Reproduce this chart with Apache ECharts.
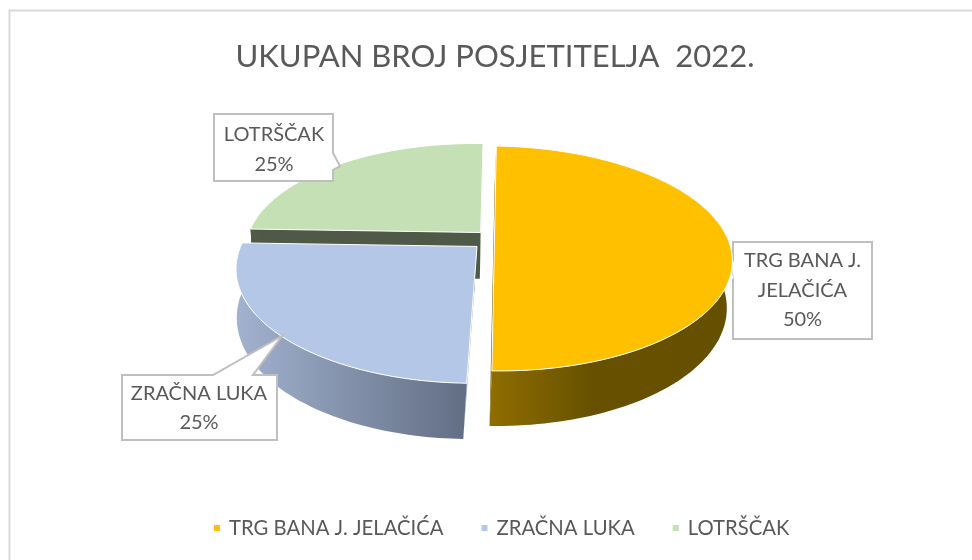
<!DOCTYPE html>
<html><head><meta charset="utf-8">
<style>html,body{margin:0;padding:0;background:#fff}#c{width:972px;height:560px}</style>
<script src="https://cdn.jsdelivr.net/npm/echarts@6/dist/echarts.min.js"></script>
</head><body><div id="c"></div>
<script>
const titleText = 'UKUPAN BROJ POSJETITELJA  2022.';
const categories = ['TRG BANA J. JELAČIĆA', 'ZRAČNA LUKA', 'LOTRŠČAK'];
const labelLines = [['TRG BANA J.', 'JELAČIĆA'], ['ZRAČNA LUKA'], ['LOTRŠČAK']];
const values = [50, 25, 25];
const startAngle = 0;

const FONT = 'Lato, "Open Sans", sans-serif';
const TEXT = '#595959';
const topColors = ['#FFC000', '#B4C7E7', '#C5E0B4'];
const sideStops = [
  [[0, '#8F6D00'], [0.42, '#675100'], [1, '#655000']],
  [[0, '#A2B2CF'], [1, '#626E84']],
  [[0, '#505A47'], [1, '#4E5846']]
];
// wall seen at the start / end of each slice, clockwise
const startWall = ['#7F6000', '#8FA3C9', '#4F5947'];
const endWall = ['#7F6000', '#6B7890', '#D5E8C9'];
const zOrder = [3, 2, 1];

// camera / layout
const cam = {xc: 484, yc: 240, rx: 232, ry: 108, hgt: 47.5, p: 0.19, q: 0.015, sy: 0.015};
const shear = [-0.038, -0.064, -0.02];
const radius = [1.014, 1, 1.005];
const explode = [[0.045, -0.03], [-0.028, 0.06], [-0.015, -0.07]];
const callouts = [
  {box: [733, 242, 872, 339], pts: [[733, 258], [725, 241], [733, 279]], edge: 'left', tx: 802.5, ty: [261, 291, 320], z: 25},
  {box: [122, 375, 277, 440], pts: [[213, 375], [282, 336], [253, 375]], edge: 'top', tx: 199, ty: [394, 423], z: 100},
  {box: [214, 114, 333, 181], pts: [[333, 153], [340, 166], [333, 170]], edge: 'right', tx: 274, ty: [135, 165], z: 100}
];

const total = values.reduce((a, b) => a + b, 0);
function project(i, u, v, h) {
  const w = 1 - cam.p * v + cam.q * h;
  const x = cam.rx * u / w, y = (cam.ry * v + cam.hgt * h) / w;
  return [cam.xc + x + shear[i] * y, cam.yc + y + cam.sy * x];
}
function sliceAngles(i) {
  let acc = 0;
  for (let k = 0; k < i; k++) acc += values[k];
  return [startAngle + acc / total * 2 * Math.PI, startAngle + (acc + values[i]) / total * 2 * Math.PI];
}
function rim(i, a, h) {
  return project(i, explode[i][0] + radius[i] * Math.sin(a), explode[i][1] - radius[i] * Math.cos(a), h);
}
function arc(i, a0, a1, h) {
  const out = [], n = 72;
  for (let k = 0; k <= n; k++) out.push(rim(i, a0 + (a1 - a0) * k / n, h));
  return out;
}
function calloutShape(c) {
  const [l, t, r, b] = c.box, p = c.pts;
  if (c.edge === 'left') return [[l, t], [r, t], [r, b], [l, b], p[2], p[1], p[0]];
  if (c.edge === 'top') return [[l, t], p[0], p[1], p[2], [r, t], [r, b], [l, b]];
  return [[l, t], [r, t], p[0], p[1], p[2], [r, b], [l, b]];
}
function renderSlice(i) {
  return function (params, api) {
    const value = api.value(1);
    if (value == null) return;
    const [a0, a1] = sliceAngles(i);
    const apex = project(i, explode[i][0], explode[i][1], 0);
    const apexB = project(i, explode[i][0], explode[i][1], 1);
    const base = zOrder[i] * 10;
    const children = [];
    children.push({type: 'polygon', z2: base, shape: {points: [apex, rim(i, a0, 0), rim(i, a0, 1), apexB]}, style: {fill: startWall[i]}});
    children.push({type: 'polygon', z2: base, shape: {points: [apex, rim(i, a1, 0), rim(i, a1, 1), apexB]}, style: {fill: endWall[i]}});
    // outer wall: only the part facing the camera
    const fa0 = Math.max(a0, Math.PI / 2 - 0.19), fa1 = Math.min(a1, 3 * Math.PI / 2 + 0.19);
    if (fa1 > fa0) {
      children.push({
        type: 'polygon', z2: base + 1, shape: {points: arc(i, fa0, fa1, 0).concat(arc(i, fa0, fa1, 1).reverse())},
        style: {fill: {type: 'linear', x: 0, y: 0, x2: 1, y2: 0,
          colorStops: sideStops[i].map(s => ({offset: s[0], color: s[1]}))}}
      });
    }
    children.push({
      type: 'polygon', z2: base + 2, shape: {points: [apex].concat(arc(i, a0, a1, 0))},
      style: {fill: topColors[i], stroke: '#fff', lineWidth: 1, lineJoin: 'round'}
    });
    const c = callouts[i];
    children.push({type: 'polygon', z2: c.z, shape: {points: calloutShape(c)}, style: {fill: '#fff', stroke: '#BFBFBF', lineWidth: 2}});
    if (c.edge === 'left') {
      children.push({type: 'line', z2: c.z, shape: {x1: c.pts[1][0], y1: c.pts[1][1] + 10, x2: c.pts[2][0] - 1, y2: c.pts[2][1]}, style: {stroke: '#fff', lineWidth: 3}});
    }
    const pct = Math.round(value / total * 100) + '%';
    labelLines[i].concat([pct]).forEach((s, k) => {
      children.push({type: 'text', z2: 101, style: {x: c.tx, y: c.ty[k], text: s, fill: TEXT, font: '20px ' + FONT, align: 'center', verticalAlign: 'middle'}});
    });
    return {type: 'group', children};
  };
}

const chart = echarts.init(document.getElementById('c'), null, {renderer: 'canvas'});
chart.setOption({
  animation: false,
  backgroundColor: '#fff',
  title: {text: titleText, left: 490, textAlign: 'center', top: 36, textStyle: {color: TEXT, fontFamily: FONT, fontSize: 31, fontWeight: 'normal'}},
  legend: {
    data: categories, left: 209, top: 513, icon: 'rect', itemWidth: 6, itemHeight: 6, itemGap: 38,
    textStyle: {color: TEXT, fontFamily: FONT, fontSize: 20.3, padding: [0, 0, 0, 4]}
  },
  graphic: [
    {type: 'polyline', silent: true, shape: {points: [[9.5, 560], [9.5, 10.5], [972, 10.5]]}, style: {fill: 'none', stroke: '#D9D9D9', lineWidth: 2}}
  ],
  series: categories.map((name, i) => ({
    type: 'custom', name, coordinateSystem: 'none', silent: true,
    itemStyle: {color: topColors[i]},
    data: [[i, values[i]]],
    encode: {value: 1},
    renderItem: renderSlice(i)
  }))
});
</script></body></html>
